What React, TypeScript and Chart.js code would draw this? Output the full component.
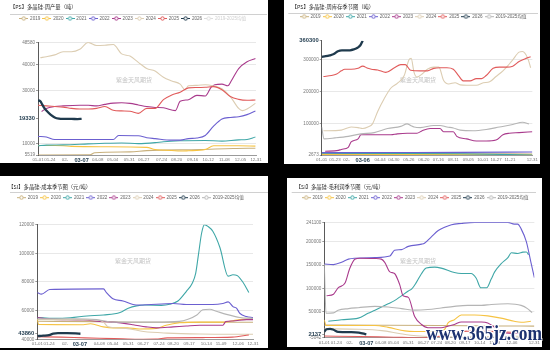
import React, { useEffect, useRef } from "react";
import { Chart, registerables } from "chart.js";
Chart.register(...registerables);

type Pt = [number, number];

const SERIES_NAMES = ["2019", "2020", "2021", "2022", "2023", "2024", "2025", "2026", "2019-2025均值"];
const SERIES_COLORS = ["#c8b07c", "#f6c343", "#3fa7a7", "#6b5fd0", "#a93a8c", "#dccdb2", "#e15b5b", "#1f3a4d", "#b5b5b5"];

// ---------- Panel 1: weekly output ----------
const P1_TITLE = "【PS】多晶硅-周产量（吨）";
const P1_X_DAYS = [0, 20, 45, 73, 100, 125, 153, 177, 207, 232, 259, 285, 312, 339, 365];
const P1_X_LABELS = ["01-01", "01-24", "02-", "03-07", "04-08", "05-04", "05-31", "06-27", "07-24", "08-20", "09-16", "10-12", "11-08", "12-05", "12-31"];
const P1_Y_TICKS = [5519, 10000, 19330, 30000, 40000, 48580];
const P1_2019: Pt[] = [[0, 5519], [87, 5600], [95, 6400], [154, 6700], [182, 7200], [271, 7600], [327, 8000], [364, 8100]];
const P1_2020: Pt[] = [[0, 9170], [28, 9170], [42, 9050], [56, 8810], [112, 8690], [182, 8450], [196, 7620], [224, 7260], [238, 7020], [252, 7140], [280, 7620], [294, 9050], [336, 9050], [364, 8930]];
const P1_2021: Pt[] = [[0, 9050], [14, 9290], [42, 9400], [84, 9760], [112, 10000], [140, 10120], [168, 9880], [196, 10240], [210, 10600], [238, 10950], [280, 11070], [308, 10830], [336, 11310], [350, 11430], [364, 12380]];
const P1_2022: Pt[] = [[0, 12620], [14, 12380], [28, 11430], [126, 11430], [135, 12980], [168, 12860], [182, 12140], [196, 11790], [224, 11190], [238, 11190], [252, 11790], [266, 12020], [280, 12980], [294, 16550], [308, 19290], [322, 19880], [336, 20120], [350, 20950], [364, 22380]];
const P1_2023: Pt[] = [[6, 22140], [14, 23330], [28, 24050], [42, 24290], [70, 24520], [84, 24520], [98, 24290], [112, 24880], [126, 25360], [140, 25480], [154, 25240], [168, 24640], [182, 24050], [196, 23690], [210, 23570], [230, 22500], [238, 26070], [252, 26670], [266, 28330], [280, 28100], [290, 31500], [296, 32380], [308, 32620], [318, 32000], [324, 34000], [336, 38570], [350, 41190], [364, 42380]];
const P1_2024: Pt[] = [[4, 42740], [14, 43100], [28, 43800], [42, 45000], [56, 45000], [70, 45950], [84, 48580], [98, 47380], [112, 47500], [126, 47740], [140, 44170], [154, 43330], [168, 40950], [182, 38570], [196, 37620], [210, 35240], [224, 33810], [238, 32620], [246, 30500], [252, 32020], [266, 32140], [280, 32380], [294, 31900], [308, 30830], [322, 27860], [336, 23330], [342, 22500], [350, 23100], [364, 25240]];
const P1_2025: Pt[] = [[0, 24520], [14, 24290], [28, 24050], [42, 23810], [56, 23330], [70, 23100], [84, 23100], [98, 23330], [112, 24050], [126, 22620], [140, 22380], [154, 22260], [168, 21430], [182, 23330], [196, 23330], [210, 26670], [224, 28450], [238, 29520], [252, 31190], [266, 31310], [280, 31430], [294, 31670], [308, 30480], [322, 27860], [336, 26790], [350, 26430], [364, 26550]];
const P1_2026: Pt[] = [[0, 26430], [4, 26070], [7, 24880], [11, 23330], [14, 22500], [21, 20950], [28, 19880], [35, 19400], [42, 19300], [56, 19300], [66, 19250], [73, 19330]];
const P1_AVG: Pt[] = [];

// ---------- Panel 2: weekly inventory ----------
const P2_TITLE = "【PS】多晶硅-周库存季节图（吨）";
const P2_X_DAYS = [0, 23, 43, 71, 101, 125, 151, 177, 202, 228, 254, 279, 302, 326, 365];
const P2_X_LABELS = ["01-01", "01-23", "02-", "03-06", "04-04", "04-30", "05-26", "06-20", "07-16", "08-11", "09-05", "10-01", "10-27", "11-21", "12-31"];
const P2_Y_TICKS = [2673, 100000, 200000, 300000, 360300];
const P2_2019: Pt[] = [[0, 7000], [120, 7500], [240, 6500], [365, 6000]];
const P2_2020: Pt[] = [[0, 4500], [180, 4000], [365, 3500]];
const P2_2021: Pt[] = [[0, 8000], [120, 7500], [240, 6500], [365, 2673]];
const P2_2022: Pt[] = [[0, 10000], [120, 10500], [240, 11000], [365, 12000]];
const P2_2023: Pt[] = [[6, 14200], [29, 17100], [34, 20100], [46, 26800], [51, 43400], [63, 53200], [68, 65900], [91, 65900], [120, 65900], [131, 68800], [148, 70700], [165, 70700], [174, 78500], [188, 85400], [205, 85400], [211, 75600], [228, 75600], [234, 61000], [251, 53200], [268, 46300], [285, 46300], [302, 49300], [314, 65900], [325, 70700], [342, 72700], [365, 75600]];
const P2_2024: Pt[] = [[3, 78500], [34, 80500], [51, 90200], [63, 88300], [71, 85400], [80, 90200], [88, 100000], [97, 139000], [108, 178000], [120, 212200], [131, 226800], [143, 251200], [151, 300000], [155, 304900], [160, 261000], [165, 246300], [174, 256100], [183, 270700], [194, 277600], [203, 277600], [211, 236600], [220, 224900], [231, 228800], [240, 222000], [251, 221000], [268, 221000], [280, 228800], [291, 231700], [302, 248300], [314, 265900], [325, 287300], [331, 300000], [342, 324400], [348, 326300], [357, 304900], [362, 275600]];
const P2_2025: Pt[] = [[3, 248300], [17, 251200], [26, 256100], [34, 265900], [40, 270700], [51, 270700], [63, 273700], [71, 280500], [80, 273700], [86, 270700], [97, 268800], [111, 261000], [126, 275600], [137, 285400], [145, 285400], [154, 267800], [171, 265900], [183, 265900], [194, 273700], [205, 275600], [217, 275600], [228, 270700], [237, 251200], [245, 234600], [257, 234600], [268, 241500], [277, 241500], [285, 251200], [297, 273700], [308, 277600], [320, 277600], [331, 280500], [342, 295100], [354, 304900], [362, 309800]];
const P2_2026: Pt[] = [[0, 309800], [7, 311700], [14, 314600], [21, 318500], [28, 327300], [35, 330200], [49, 330200], [56, 333200], [62, 338000], [67, 346000], [71, 360300]];
const P2_AVG: Pt[] = [[0, 90200], [4, 53200], [23, 56100], [46, 61000], [68, 68800], [91, 72700], [114, 85400], [137, 92200], [148, 100000], [154, 95100], [160, 90200], [171, 88300], [194, 95100], [205, 95100], [217, 90200], [228, 87300], [240, 80500], [262, 78500], [285, 82400], [308, 90200], [331, 98000], [348, 104900], [359, 100000]];

// ---------- Panel 3: cost ----------
const P3_TITLE = "【SI】多晶硅-成本季节图（元/吨）";
const P3_X_DAYS = [0, 20, 47, 72, 105, 128, 154, 179, 206, 230, 257, 286, 311, 340, 365];
const P3_X_LABELS = ["01-01", "01-24", "02-", "03-07", "04-08", "05-04", "05-31", "06-27", "07-24", "08-20", "09-17", "10-14", "11-09", "12-06", "12-31"];
const P3_Y_TICKS = [40000, 43860, 60000, 80000, 100000, 120000];
const P3_2019: Pt[] = [[0, 52600], [100, 52300], [200, 51900], [300, 51900], [365, 51900]];
const P3_2020: Pt[] = [[0, 54000], [2, 50400], [78, 50200], [90, 50800], [112, 48700], [128, 48000], [152, 48000], [173, 47200], [201, 47600], [218, 49800], [241, 51500], [275, 52000], [319, 52000], [331, 53000], [354, 54100], [365, 54100]];
const P3_2021: Pt[] = [[0, 55200], [28, 54600], [56, 55000], [84, 56300], [112, 57000], [140, 58700], [154, 61700], [168, 63300], [182, 63900], [210, 63700], [224, 64400], [238, 66700], [252, 73300], [262, 79000], [268, 86000], [273, 100000], [278, 114000], [283, 120000], [289, 118700], [297, 115400], [309, 104100], [323, 84100], [331, 85000], [338, 84600], [348, 79800], [358, 72600]];
const P3_2022: Pt[] = [[0, 72600], [7, 71500], [21, 74800], [112, 75200], [117, 72600], [128, 68300], [145, 66700], [162, 64300], [173, 63900], [230, 65000], [252, 64300], [297, 64300], [314, 65000], [323, 66100], [331, 62800], [337, 61700], [343, 58000], [354, 55900], [365, 55200]];
const P3_2023: Pt[] = [[0, 55200], [21, 54100], [78, 53500], [106, 52400], [128, 52000], [162, 50200], [184, 48700], [201, 48000], [230, 48700], [252, 49300], [275, 49800], [314, 49800], [319, 52400], [331, 52800], [354, 53700], [365, 53700]];
const P3_2024: Pt[] = [[0, 53900], [50, 53700], [100, 53500], [112, 52000], [120, 48700], [150, 47600], [180, 45400], [220, 44300], [275, 43700], [365, 43500]];
const P3_2025: Pt[] = [[0, 41800], [40, 41500], [80, 41000], [130, 40500], [170, 40000], [200, 40100], [220, 41000], [280, 41200], [330, 41500], [358, 43000]];
const P3_2026: Pt[] = [[0, 42200], [10, 42500], [20, 42900], [27, 43900], [35, 44300], [50, 44300], [65, 44100], [73, 43860]];
const P3_AVG: Pt[] = [[0, 54300], [60, 54300], [100, 53700], [128, 52000], [200, 52000], [240, 52500], [255, 54000], [270, 57000], [280, 60600], [292, 61000], [303, 59600], [320, 57400], [343, 55200], [365, 54600]];

// ---------- Panel 4: gross profit ----------
const P4_TITLE = "【SI】多晶硅-毛利润季节图（元/吨）";
const P4_X_DAYS = [0, 21, 44, 73, 98, 120, 146, 172, 195, 219, 244, 270, 296, 326, 365];
const P4_X_LABELS = ["01-01", "01-24", "02-", "03-07", "04-08", "05-04", "05-31", "06-27", "07-24", "08-20", "09-17", "10-14", "11-09", "12-06", "12-31"];
const P4_Y_TICKS = [-5042, 2137, 50000, 100000, 150000, 200000, 241100];
const P4_2019: Pt[] = [[0, 21800], [100, 21500], [200, 21000], [300, 20000], [365, 19700]];
const P4_2020: Pt[] = [[0, 33000], [3, 21100], [88, 21100], [111, 17000], [140, 9500], [157, 8200], [192, 8200], [209, 12900], [215, 26500], [226, 33300], [238, 43500], [261, 43500], [284, 41500], [307, 36700], [330, 29900], [342, 27900], [359, 29900]];
const P4_2021: Pt[] = [[7, 29900], [30, 33300], [59, 36700], [76, 47000], [88, 53700], [111, 67300], [122, 74100], [134, 84300], [146, 94600], [152, 99000], [160, 113000], [169, 132000], [177, 143500], [192, 145600], [203, 143500], [226, 134000], [238, 132000], [255, 132000], [264, 121800], [272, 101400], [282, 101400], [290, 120000], [296, 135400], [307, 152400], [319, 166000], [325, 176200], [336, 174800], [345, 177500], [351, 178000], [355, 172000]];
const P4_2022: Pt[] = [[0, 152400], [16, 151000], [30, 155800], [42, 162600], [53, 164600], [88, 166000], [114, 169400], [122, 181600], [134, 183000], [146, 189800], [169, 194600], [174, 196600], [186, 210200], [198, 223800], [209, 230600], [221, 236100], [238, 238800], [261, 241100], [319, 241100], [330, 237400], [336, 237400], [342, 227200], [351, 200000], [359, 155800], [365, 123100]];
const P4_2023: Pt[] = [[4, 84300], [16, 87800], [24, 101400], [36, 111600], [44, 142200], [53, 162600], [62, 164600], [88, 163900], [99, 162600], [105, 155800], [114, 135400], [122, 132000], [131, 108200], [137, 84300], [146, 81000], [157, 40100], [169, 23100], [180, 16300], [203, 16300], [215, 19700], [226, 23100], [238, 28600], [273, 28600], [284, 26500], [297, 16000], [307, 8000], [325, 4000], [362, 4000]];
const P4_2024: Pt[] = [[0, 14000], [60, 13000], [100, 10000], [130, 4000], [160, -1000], [200, -3000], [260, -3000], [300, -2000], [365, -2000]];
const P4_2025: Pt[] = [[0, -1500], [60, -2500], [120, -4000], [170, -5042], [200, -2000], [220, 5000], [250, 9000], [300, 8000], [340, 6000], [362, 7000]];
const P4_2026: Pt[] = [[0, 8000], [4, 13000], [10, 14000], [16, 12000], [24, 7500], [47, 7000], [60, 6000], [73, 2137]];
const P4_AVG: Pt[] = [[0, 152000], [3, 47000], [16, 48000], [24, 53700], [42, 57100], [59, 59000], [88, 61900], [111, 60600], [134, 57100], [157, 53700], [180, 55000], [203, 58400], [226, 61900], [249, 63900], [273, 63900], [290, 65900], [319, 67300], [342, 63900], [353, 57100], [361, 48300]];

const WATERMARK = "紫金天风期货";
const SITE_MARK = "www.365jz.com";

type PanelCfg = {
  left: number; top: number; w: number; h: number;
  title: string; series: Pt[][]; hidden: number[];
  xDays: number[]; xLabels: string[]; xHL: number;
  yTicks: number[]; yHL: number;
  padL: number; padR: number; yW: number; xH: number;
  tPadTop: number; tPadBot: number; legendExtra: number;
  sepY: number; sepX0: number; sepX1: number; wm: [number, number];
};

const PANELS: PanelCfg[] = [
  {
    left: 0, top: 0, w: 268, h: 163, title: P1_TITLE,
    series: [P1_2019, P1_2020, P1_2021, P1_2022, P1_2023, P1_2024, P1_2025, P1_2026, P1_AVG], hidden: [8],
    xDays: P1_X_DAYS, xLabels: P1_X_LABELS, xHL: 3, yTicks: P1_Y_TICKS, yHL: 19330,
    padL: 10, padR: 12, yW: 28, xH: 8, tPadTop: 4.1, tPadBot: 3.1, legendExtra: 11.6,
    sepY: 14, sepX0: 10, sepX1: 267, wm: [134, 80],
  },
  {
    left: 284, top: 0, w: 256, h: 164, title: P2_TITLE,
    series: [P2_2019, P2_2020, P2_2021, P2_2022, P2_2023, P2_2024, P2_2025, P2_2026, P2_AVG], hidden: [],
    xDays: P2_X_DAYS, xLabels: P2_X_LABELS, xHL: 3, yTicks: P2_Y_TICKS, yHL: 360300,
    padL: 7.7, padR: 5, yW: 30, xH: 9, tPadTop: 4.1, tPadBot: 1.3, legendExtra: 11.7,
    sepY: 13.3, sepX0: 4.3, sepX1: 254, wm: [134, 80],
  },
  {
    left: 0, top: 176, w: 268, h: 172, title: P3_TITLE,
    series: [P3_2019, P3_2020, P3_2021, P3_2022, P3_2023, P3_2024, P3_2025, P3_2026, P3_AVG], hidden: [],
    xDays: P3_X_DAYS, xLabels: P3_X_LABELS, xHL: 3, yTicks: P3_Y_TICKS, yHL: 43860,
    padL: 8.3, padR: 15, yW: 29, xH: 8.7, tPadTop: 7.8, tPadBot: 2.6, legendExtra: 14.7,
    sepY: 15.7, sepX0: 10, sepX1: 268, wm: [133, 85],
  },
  {
    left: 287, top: 178, w: 255, h: 169, title: P4_TITLE,
    series: [P4_2019, P4_2020, P4_2021, P4_2022, P4_2023, P4_2024, P4_2025, P4_2026, P4_AVG], hidden: [],
    xDays: P4_X_DAYS, xLabels: P4_X_LABELS, xHL: 3, yTicks: P4_Y_TICKS, yHL: 2137,
    padL: 8.7, padR: 7, yW: 28.6, xH: 9.3, tPadTop: 5.8, tPadBot: 2.6, legendExtra: 12.4,
    sepY: 14.3, sepX0: 4.7, sepX1: 249, wm: [131, 83],
  },
];

const TICK_FAMILY = "'Liberation Sans', 'Noto Sans CJK SC', sans-serif";
const CJK_FAMILY = "'Noto Sans CJK SC', 'Liberation Sans', sans-serif";

const markerCache: Record<string, HTMLCanvasElement> = {};
function marker(color: string): HTMLCanvasElement {
  if (markerCache[color]) return markerCache[color];
  const c = document.createElement("canvas");
  c.width = 9;
  c.height = 5;
  const g = c.getContext("2d")!;
  g.strokeStyle = color;
  g.lineWidth = 1;
  g.beginPath();
  g.moveTo(0, 2.5);
  g.lineTo(9, 2.5);
  g.stroke();
  g.beginPath();
  g.arc(4.5, 2.5, 1.7, 0, Math.PI * 2);
  g.fillStyle = "#fff";
  g.fill();
  g.stroke();
  markerCache[color] = c;
  return c;
}

function Panel({ cfg }: { cfg: PanelCfg }) {
  const ref = useRef<HTMLCanvasElement | null>(null);
  useEffect(() => {
    const canvas = ref.current;
    if (!canvas) return;
    const yMin = cfg.yTicks[0];
    const yMax = cfg.yTicks[cfg.yTicks.length - 1];

    const legendSpacer = {
      id: "legendSpacer",
      beforeInit(chart: any) {
        const lg = chart.legend;
        if (!lg) return;
        const fit = lg.fit;
        lg.fit = function () {
          fit.call(this);
          this.height += cfg.legendExtra;
        };
      },
    };
    const decor = {
      id: "decor",
      beforeDatasetsDraw(chart: any) {
        const ctx = chart.ctx;
        ctx.save();
        ctx.font = `6px ${CJK_FAMILY}`;
        ctx.fillStyle = "#c4c4c4";
        ctx.textAlign = "center";
        ctx.textBaseline = "middle";
        ctx.fillText(WATERMARK, cfg.wm[0], cfg.wm[1]);
        ctx.restore();
      },
      afterDraw(chart: any) {
        const ctx = chart.ctx;
        ctx.save();
        ctx.strokeStyle = "#d0d0d0";
        ctx.lineWidth = 1;
        ctx.beginPath();
        ctx.moveTo(cfg.sepX0, Math.round(cfg.sepY) + 0.5);
        ctx.lineTo(cfg.sepX1, Math.round(cfg.sepY) + 0.5);
        ctx.stroke();
        ctx.restore();
      },
    };

    const chart = new Chart(canvas, {
      type: "line",
      data: {
        datasets: cfg.series.map((s, i) => ({
          label: SERIES_NAMES[i],
          data: s.map(([x, y]) => ({ x, y })),
          borderColor: SERIES_COLORS[i],
          backgroundColor: SERIES_COLORS[i],
          borderWidth: i === 7 ? 2.3 : 1.1,
          pointRadius: 0,
          pointHoverRadius: 0,
          pointStyle: marker(SERIES_COLORS[i]),
          cubicInterpolationMode: "monotone" as const,
          hidden: cfg.hidden.includes(i),
          order: -i,
        })),
      },
      options: {
        animation: false,
        responsive: false,
        maintainAspectRatio: false,
        events: [],
        layout: { padding: { left: cfg.padL, right: cfg.padR, top: 0, bottom: 0 } },
        plugins: {
          title: {
            display: true,
            text: cfg.title,
            align: "start",
            color: "#2a2a2a",
            font: { size: 5.3, family: CJK_FAMILY, weight: "normal", lineHeight: 1.2 },
            padding: { top: cfg.tPadTop, bottom: cfg.tPadBot },
          },
          legend: {
            display: true,
            align: "center",
            labels: {
              usePointStyle: true,
              pointStyleWidth: 8,
              boxHeight: 4.6,
              padding: 2.6,
              color: "#666",
              font: { size: 4.6, family: TICK_FAMILY },
              generateLabels: (ch: any) => {
                const items = (Chart.defaults.plugins.legend.labels as any).generateLabels(ch);
                items.sort((a: any, b: any) => a.datasetIndex - b.datasetIndex);
                return items.map((it: any) => {
                  const hid = cfg.hidden.includes(it.datasetIndex);
                  return {
                    ...it,
                    hidden: false,
                    fontColor: hid ? "#cfcfcf" : "#666",
                    pointStyle: hid ? marker("#dddddd") : marker(SERIES_COLORS[it.datasetIndex]),
                  };
                });
              },
            },
          },
          tooltip: { enabled: false },
        },
        scales: {
          x: {
            type: "linear",
            min: 0,
            max: 365,
            afterBuildTicks: (s: any) => {
              s.ticks = cfg.xDays.map((v) => ({ value: v }));
            },
            afterFit: (s: any) => {
              s.height = cfg.xH;
            },
            ticks: {
              autoSkip: false,
              maxRotation: 0,
              minRotation: 0,
              padding: 2,
              callback: (_v: any, i: number) => cfg.xLabels[i],
              font: (c: any) =>
                c.index === cfg.xHL
                  ? { size: 5.6, weight: "bold", family: TICK_FAMILY }
                  : { size: 4.4, family: TICK_FAMILY },
              color: (c: any) => (c.index === cfg.xHL ? "#1f3a4d" : "#777"),
            },
            grid: { display: false, drawTicks: false },
            border: { display: true, color: "#9a9a9a", width: 1 },
          },
          y: {
            type: "linear",
            min: yMin,
            max: yMax,
            afterBuildTicks: (s: any) => {
              s.ticks = cfg.yTicks.map((v) => ({ value: v }));
            },
            afterFit: (s: any) => {
              s.width = cfg.yW;
            },
            ticks: {
              padding: 1,
              callback: (v: any) => String(v),
              font: (c: any) =>
                c.tick && c.tick.value === cfg.yHL
                  ? { size: 5.8, weight: "bold", family: TICK_FAMILY }
                  : { size: 4.6, family: TICK_FAMILY },
              color: (c: any) => (c.tick && c.tick.value === cfg.yHL ? "#1f3a4d" : "#777"),
            },
            grid: {
              color: (c: any) =>
                c.tick && (c.tick.value === yMin || c.tick.value === cfg.yHL) ? "rgba(0,0,0,0)" : "#e8e8e8",
              tickColor: "#999",
              tickLength: 2,
              drawTicks: true,
              lineWidth: 1,
            },
            border: { display: true, color: "#5a5a5a", width: 1 },
          },
        },
      } as any,
      plugins: [legendSpacer, decor],
    });
    return () => chart.destroy();
  }, [cfg]);

  return (
    <div
      style={{
        position: "absolute",
        left: cfg.left,
        top: cfg.top,
        width: cfg.w,
        height: cfg.h,
        background: "#fff",
        overflow: "hidden",
      }}
    >
      <canvas ref={ref} width={cfg.w} height={cfg.h} style={{ width: cfg.w, height: cfg.h, display: "block" }} />
    </div>
  );
}

export default function App() {
  useEffect(() => {
    document.body.style.margin = "0";
    document.body.style.background = "#000";
  }, []);
  return (
    <div style={{ position: "fixed", left: 0, top: 0, width: 550, height: 350, background: "#000", overflow: "hidden" }}>
      {PANELS.map((p, i) => (
        <Panel key={i} cfg={p} />
      ))}
      <div
        style={{
          position: "absolute",
          left: 426,
          top: 323,
          fontFamily: "'Liberation Serif', 'DejaVu Serif', serif",
          fontWeight: "bold",
          fontSize: 20,
          lineHeight: "20px",
          color: "#1d3270",
          whiteSpace: "nowrap",
          transform: "scaleX(0.87)",
          transformOrigin: "left top",
          textShadow: "1px 0 #fff, -1px 0 #fff, 0 1px #fff, 0 -1px #fff, 1px 1px #fff, -1px -1px #fff, 1px -1px #fff, -1px 1px #fff",
        }}
      >
        {SITE_MARK}
      </div>
    </div>
  );
}
